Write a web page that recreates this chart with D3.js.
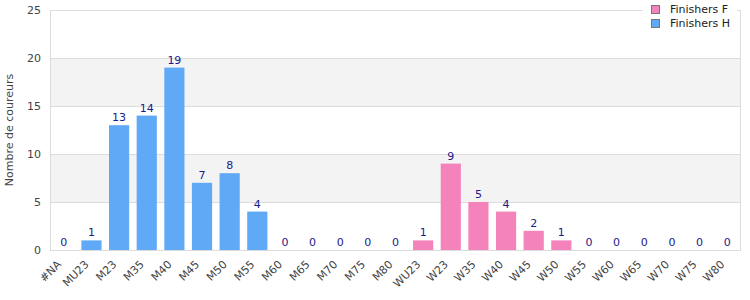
<!DOCTYPE html>
<html><head><meta charset="utf-8">
<script src="https://cdn.jsdelivr.net/npm/d3@7"></script>
<style>body{margin:0;background:#fff}svg{display:block;font-family:"DejaVu Sans",Verdana,sans-serif}</style>
</head><body><svg id="c" width="750" height="300"></svg>
<script>
const categories = ["#NA","MU23","M23","M35","M40","M45","M50","M55","M60","M65","M70","M75","M80","WU23","W23","W35","W40","W45","W50","W55","W60","W65","W70","W75","W80"];
const finishersH = [0,1,13,14,19,7,8,4,0,0,0,0,0,null,null,null,null,null,null,null,null,null,null,null,null];
const finishersF = [null,null,null,null,null,null,null,null,null,null,null,null,null,1,9,5,4,2,1,0,0,0,0,0,0];
const yTicks = [0,5,10,15,20,25];
const seriesNames = ["Finishers F","Finishers H"];
const colors = {"Finishers F":"#f383ba","Finishers H":"#60a9f6"};

const svg = d3.select("#c");
const m = {l:50,r:9,t:10,b:50};
const W = 750, H = 300;
const x = d3.scaleBand().domain(categories).range([m.l, W-m.r]).paddingInner(0.27).paddingOuter(0.135);
const y = d3.scaleLinear().domain([0,25]).range([H-m.b, m.t]);

// alternating bands
for (let i=0;i<yTicks.length-1;i++){
  if (i%2===1) svg.append("rect").attr("x",m.l).attr("width",W-m.r-m.l)
    .attr("y",y(yTicks[i+1])).attr("height",y(yTicks[i])-y(yTicks[i+1])).attr("fill","#f3f3f3");
}
// grid lines
svg.append("g").selectAll("line").data(yTicks.slice(1)).join("line")
  .attr("x1",m.l).attr("x2",W-m.r).attr("y1",d=>y(d)+0.5).attr("y2",d=>y(d)+0.5)
  .attr("stroke","#dcdcdc");
// border
svg.append("rect").attr("x",m.l+0.5).attr("y",m.t+0.5).attr("width",W-m.r-m.l-1).attr("height",H-m.b-m.t)
  .attr("fill","none").attr("stroke","#dcdcdc");

// y axis
const ya = svg.append("g").attr("transform",`translate(${m.l},0)`)
  .call(d3.axisLeft(y).tickValues(yTicks).tickSize(0).tickPadding(9));
ya.select(".domain").remove();
ya.selectAll("text").attr("fill","#444").style("font-size","11px").style("font-family","DejaVu Sans");

// x axis
const xa = svg.append("g").attr("transform",`translate(0,${H-m.b})`)
  .call(d3.axisBottom(x).tickSize(0).tickPadding(0));
xa.select(".domain").remove();
xa.selectAll("text").attr("fill","#444").style("font-size","11px").style("font-family","DejaVu Sans")
  .attr("text-anchor","end").attr("dy","0").attr("transform","translate(-2,15) rotate(-45)");

// bars
const data = categories.map((c,i)=>({c, F:finishersF[i], H:finishersH[i]}));
const rows = [];
data.forEach(d=>{
  if (d.F!==null) rows.push({c:d.c,s:"Finishers F",v:d.F});
  if (d.H!==null) rows.push({c:d.c,s:"Finishers H",v:d.H});
});
svg.append("g").selectAll("rect").data(rows.filter(r=>r.v>0)).join("rect")
  .attr("x",r=>x(r.c)).attr("width",x.bandwidth())
  .attr("y",r=>y(r.v)).attr("height",r=>y(0)-y(r.v)).attr("fill",r=>colors[r.s]);
svg.append("g").selectAll("text").data(rows).join("text")
  .attr("x",r=>x(r.c)+x.bandwidth()/2).attr("y",r=>y(r.v)-4)
  .attr("text-anchor","middle").attr("fill","#1a1a8a").style("font-size","11px").text(r=>r.v);

// y title
svg.append("text").attr("transform",`translate(9,${(m.t+H-m.b)/2}) rotate(-90)`)
  .attr("text-anchor","middle").attr("dy","0.35em").attr("fill","#444").style("font-size","11px")
  .text("Nombre de coureurs");

// legend
const lg = svg.append("g");
lg.append("rect").attr("x",643).attr("y",0).attr("width",94).attr("height",33).attr("fill","#fff");
seriesNames.forEach((s,i)=>{
  lg.append("rect").attr("x",651.5).attr("y",5.5+i*14).attr("width",8).attr("height",8)
    .attr("fill",colors[s]).attr("stroke","#777");
  lg.append("text").attr("x",670).attr("y",13+i*14).attr("fill","#222").style("font-size","11px").text(s);
});
</script></body></html>
